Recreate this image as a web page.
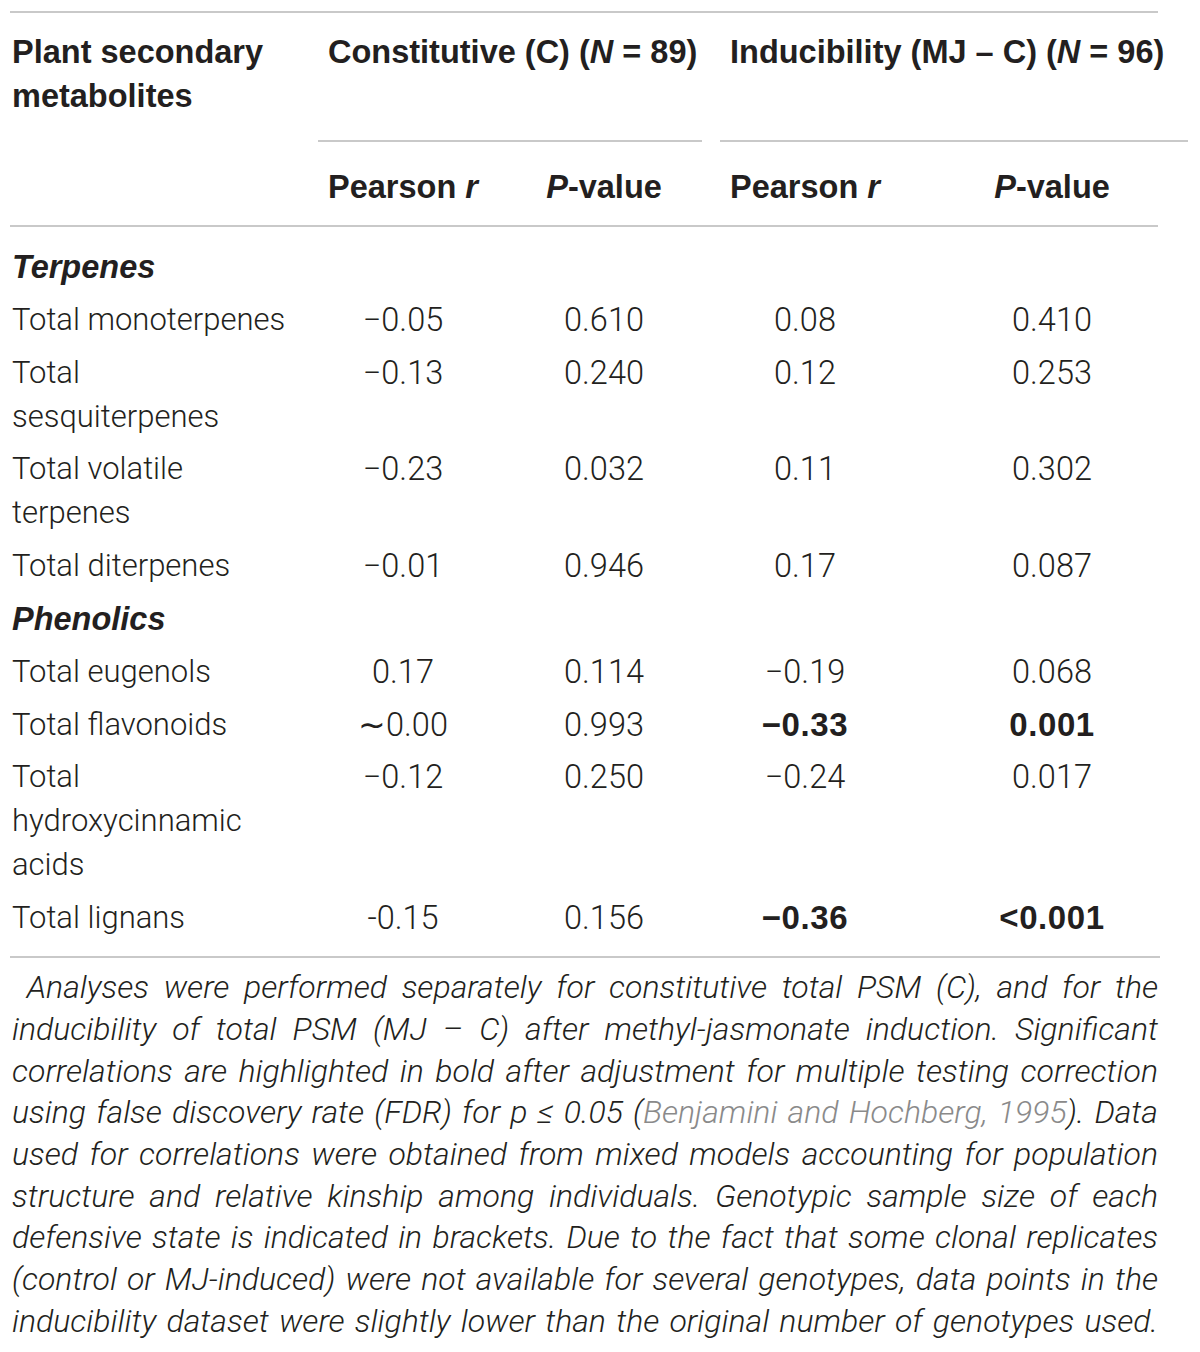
<!DOCTYPE html>
<html>
<head>
<meta charset="utf-8">
<script src="https://cdn.jsdelivr.net/npm/chart.js@4.4.1/dist/chart.umd.min.js"></script>
<style>
  html, body { margin: 0; padding: 0; background: #fff; }
  body { width: 1200px; height: 1352px; position: relative; overflow: hidden;
         font-family: Roboto, "Liberation Sans", sans-serif; font-weight: 300; color: #231f20; }
  .cell { position: absolute; height: 44px; line-height: 44px; font-size: 31px; white-space: nowrap; }
  .hd { font-family: "Liberation Sans", Arial, sans-serif; font-weight: 700; font-size: 32.5px; }
  .c { text-align: center; width: 220px; font-size: 32.5px; }
  .b { font-family: "Liberation Sans", Arial, sans-serif; font-weight: 700; font-size: 33px; letter-spacing: 0.6px; }
  .rule { position: absolute; height: 2px; background: #c9c9c9; }
  .nl { position: absolute; left: 12px; width: 1146px; height: 41.7px; line-height: 41.7px; font-size: 32px;
        font-style: italic; text-align: justify; text-align-last: justify; white-space: nowrap; }
  .ref { color: #8a8a8a; }
</style>
</head>
<body>
<script>
// table data
var groups      = ['Terpenes', 'Phenolics'];
var metabolites = ['Total monoterpenes', 'Total\nsesquiterpenes', 'Total volatile\nterpenes', 'Total diterpenes',
                   'Total eugenols', 'Total flavonoids', 'Total\nhydroxycinnamic\nacids', 'Total lignans'];
var groupOf     = [0, 0, 0, 0, 1, 1, 1, 1];
var constR      = ['\u22120.05', '\u22120.13', '\u22120.23', '\u22120.01', '0.17', '\u223c0.00', '\u22120.12', '-0.15'];
var constP      = ['0.610', '0.240', '0.032', '0.946', '0.114', '0.993', '0.250', '0.156'];
var indR        = ['0.08', '0.12', '0.11', '0.17', '\u22120.19', '\u22120.33', '\u22120.24', '\u22120.36'];
var indP        = ['0.410', '0.253', '0.302', '0.087', '0.068', '0.001', '0.017', '<0.001'];
var significant = [false, false, false, false, false, true, false, true];

// footnote, one entry per printed line
var noteLines = [
  '\u00a0Analyses were performed separately for constitutive total PSM (C), and for the',
  'inducibility of total PSM (MJ \u2013 C) after methyl-jasmonate induction. Significant',
  'correlations are highlighted in bold after adjustment for multiple testing correction',
  'using false discovery rate (FDR) for p \u2264 0.05 (<span class="ref">Benjamini and Hochberg, 1995</span>). Data',
  'used for correlations were obtained from mixed models accounting for population',
  'structure and relative kinship among individuals. Genotypic sample size of each',
  'defensive state is indicated in brackets. Due to the fact that some clonal replicates',
  '(control or MJ-induced) were not available for several genotypes, data points in the',
  'inducibility dataset were slightly lower than the original number of genotypes used.'
];

var colX  = [12, 403, 604, 805, 1052];   // label left edge, then value column centres
var lineH = 44, rowGap = 52.8;

function put(html, x, cy, cls) {
  var d = document.createElement('div');
  d.className = 'cell ' + (cls || '');
  d.innerHTML = html;
  d.style.top = (cy - lineH / 2) + 'px';
  d.style.left = (cls && cls.indexOf('c') === 0 ? x - 110 : x) + 'px';
  document.body.appendChild(d);
}
function rule(x1, x2, y) {
  var d = document.createElement('div');
  d.className = 'rule';
  d.style.left = x1 + 'px'; d.style.width = (x2 - x1) + 'px'; d.style.top = (y - 1) + 'px';
  document.body.appendChild(d);
}
function esc(s) { return s.replace(/</g, '&lt;'); }

// header
rule(10, 1158, 12);
put('Plant secondary', 12, 52, 'hd');
put('metabolites', 12, 96, 'hd');
put('Constitutive (C) (<i>N</i> = 89)', 328, 52, 'hd');
put('Inducibility (MJ \u2013 C) (<i>N</i> = 96)', 730, 52, 'hd');
rule(318, 702, 141);
rule(720, 1188, 141);
put('Pearson <i>r</i>', colX[1], 187, 'c hd');
put('<i>P</i>-value', colX[2], 187, 'c hd');
put('Pearson <i>r</i>', colX[3], 187, 'c hd');
put('<i>P</i>-value', colX[4], 187, 'c hd');
rule(10, 1158, 226);

// body rows
var y = 267;
groups.forEach(function (g, gi) {
  put('<i>' + g + '</i>', colX[0], y, 'hd');
  y += rowGap;
  metabolites.forEach(function (m, i) {
    if (groupOf[i] !== gi) return;
    var lines = m.split('\n');
    lines.forEach(function (t, k) { put(t, colX[0], y + k * lineH); });
    put(esc(constR[i]), colX[1], y, 'c');
    put(esc(constP[i]), colX[2], y, 'c');
    put(esc(indR[i]), colX[3], y, significant[i] ? 'c b' : 'c');
    put(esc(indP[i]), colX[4], y, significant[i] ? 'c b' : 'c');
    y += (lines.length - 1) * lineH + rowGap;
  });
});
rule(10, 1160, 957);

// footnote
noteLines.forEach(function (t, k) {
  var d = document.createElement('div');
  d.className = 'nl';
  d.innerHTML = t;
  d.style.top = (988 - 41.7 / 2 + k * 41.7) + 'px';
  document.body.appendChild(d);
});
</script>
</body>
</html>
